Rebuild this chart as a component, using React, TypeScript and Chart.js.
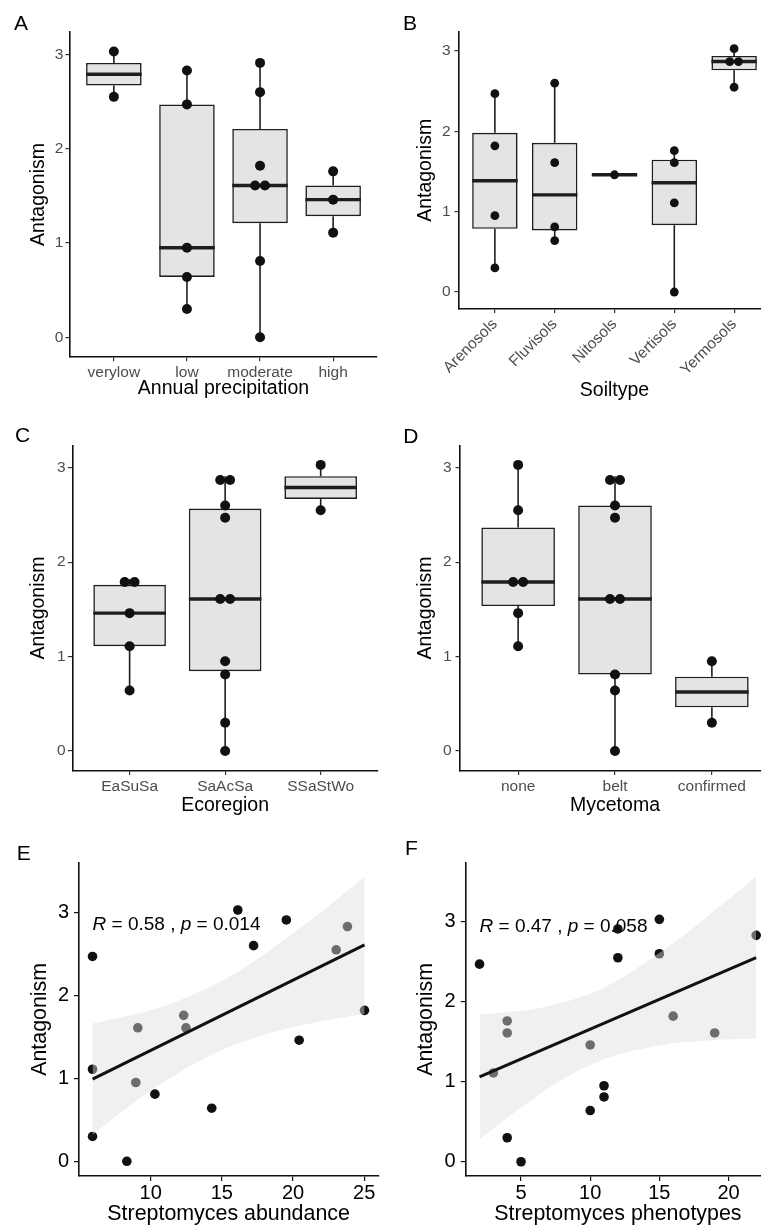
import React, { useEffect, useRef } from "react";
import { Chart, registerables } from "chart.js";

Chart.register(...registerables);

const FONT = "'Liberation Sans', Arial, Helvetica, sans-serif";

// ---------------- Data ----------------
// A: Annual precipitation
const precipitationCategories = ["verylow", "low", "moderate", "high"];
const precipitationVerylow = [3.03, 2.55];
const precipitationLow = [2.83, 2.47, 0.95, 0.64, 0.3];
const precipitationModerate = [2.91, 2.6, 1.82, 1.61, 1.61, 0.81, 0.0];
const precipitationHigh = [1.76, 1.46, 1.11];

// B: Soiltype
const soilCategories = ["Arenosols", "Fluvisols", "Nitosols", "Vertisols", "Yermosols"];
const soilArenosols = [2.47, 1.82, 0.95, 0.3];
const soilFluvisols = [2.6, 1.61, 0.81, 0.64];
const soilNitosols = [1.46];
const soilVertisols = [1.76, 1.61, 1.11, 0.0];
const soilYermosols = [3.03, 2.91, 2.83, 2.55];

// C: Ecoregion
const ecoregionCategories = ["EaSuSa", "SaAcSa", "SSaStWo"];
const ecoregionEaSuSa = [1.82, 1.76, 1.46, 1.11, 0.64];
const ecoregionSaAcSa = [2.91, 2.83, 2.6, 2.47, 1.61, 1.61, 0.95, 0.81, 0.3, 0.0];
const ecoregionSSaStWo = [3.03, 2.55];

// D: Mycetoma
const mycetomaCategories = ["none", "belt", "confirmed"];
const mycetomaNone = [3.03, 2.55, 1.82, 1.76, 1.46, 1.11];
const mycetomaBelt = [2.91, 2.83, 2.6, 2.47, 1.61, 1.61, 0.81, 0.64, 0.0];
const mycetomaConfirmed = [0.95, 0.3];

const antagonismTicks = [0, 1, 2, 3];

// E: Streptomyces abundance
const abundanceValues = [5.92, 16.12, 19.53, 17.23, 23.82, 23.03, 25.02, 20.43, 9.1, 12.32, 12.48, 5.92, 8.96, 10.3, 14.29, 5.92, 8.33];
const abundanceAntagonism = [2.47, 3.03, 2.91, 2.6, 2.83, 2.55, 1.82, 1.46, 1.61, 1.76, 1.61, 1.11, 0.95, 0.81, 0.64, 0.3, 0.0];
const abundanceFitX = [5.92, 25.02];
const abundanceFitY = [0.99, 2.61];
const abundanceBandX = [5.92, 8, 10, 12, 14, 16, 18, 20, 22, 25.02];
const abundanceBandUpper = [1.66, 1.74, 1.82, 1.94, 2.09, 2.27, 2.5, 2.75, 3.01, 3.43];
const abundanceBandLower = [0.32, 0.6, 0.85, 1.07, 1.26, 1.41, 1.53, 1.62, 1.69, 1.78];
const abundanceTicks = [10, 15, 20, 25];
const abundanceLabel = [
  { text: "R", italic: true },
  { text: " = 0.58 , ", italic: false },
  { text: "p", italic: true },
  { text: " = 0.014", italic: false },
];

// F: Streptomyces phenotypes
const phenotypeValues = [2, 15, 12, 12, 22, 15, 16, 19, 4, 4, 10, 3, 11, 11, 10, 4, 5];
const phenotypeAntagonism = [2.47, 3.03, 2.91, 2.55, 2.83, 2.6, 1.82, 1.61, 1.76, 1.61, 1.46, 1.11, 0.95, 0.81, 0.64, 0.3, 0.0];
const phenotypeFitX = [2, 22];
const phenotypeFitY = [1.06, 2.55];
const phenotypeBandX = [2, 4, 6, 8, 10, 12, 14, 16, 18, 20, 22];
const phenotypeBandUpper = [1.84, 1.87, 1.91, 1.99, 2.1, 2.27, 2.49, 2.73, 3.0, 3.28, 3.57];
const phenotypeBandLower = [0.28, 0.55, 0.8, 1.03, 1.21, 1.34, 1.42, 1.48, 1.51, 1.53, 1.54];
const phenotypeTicks = [5, 10, 15, 20];
const phenotypeLabel = [
  { text: "R", italic: true },
  { text: " = 0.47 , ", italic: false },
  { text: "p", italic: true },
  { text: " = 0.058", italic: false },
];

// ---------------- Styles ----------------
const BOX_FILL = "#e4e4e4";
const BOX_LINE = "#1e1e1e";
const DOT = "#111111";
const AXIS = "#111111";
const TICK_GRAY = "#4d4d4d";
const BAND = "rgba(222,222,222,0.45)";
const BOX_WIDTH = 0.76;

// ---------------- Helpers ----------------
function quantile7(sorted: number[], p: number) {
  const h = (sorted.length - 1) * p;
  const lo = Math.floor(h);
  const hi = Math.ceil(h);
  return sorted[lo] + (h - lo) * (sorted[hi] - sorted[lo]);
}

function boxStats(values: number[]) {
  const s = [...values].sort((a, b) => a - b);
  const q1 = quantile7(s, 0.25);
  const med = quantile7(s, 0.5);
  const q3 = quantile7(s, 0.75);
  const iqr = q3 - q1;
  const lo = Math.min(...s.filter((v) => v >= q1 - 1.5 * iqr));
  const hi = Math.max(...s.filter((v) => v <= q3 + 1.5 * iqr));
  return { q1, med, q3, lo, hi };
}

// dot-density style binning: values closer than binWidth are stacked side by side
function stackDots(values: number[], binWidth: number) {
  const s = [...values].sort((a, b) => a - b);
  const out: { y: number; offset: number }[] = [];
  let i = 0;
  while (i < s.length) {
    let j = i;
    while (j + 1 < s.length && s[j + 1] - s[i] < binWidth) j++;
    const m = j - i + 1;
    const center = (s[i] + s[j]) / 2;
    for (let k = 0; k < m; k++) out.push({ y: center, offset: k - (m - 1) / 2 });
    i = j + 1;
  }
  return out;
}

type Plot = { l: number; t: number; r: number; b: number };

type BoxPanelCfg = {
  letter: string;
  letterX: number;
  letterBaseline: number;
  left: number;
  top: number;
  w: number;
  h: number;
  plot: Plot;
  categories: string[];
  groups: number[][];
  xTitle: string;
  xTitleY: number;
  yTitleX: number;
  rotation: number;
  dotR: number;
  xTickPad: number;
  yTickPad: number;
};

type ScatterPanelCfg = {
  letter: string;
  letterX: number;
  letterBaseline: number;
  left: number;
  top: number;
  w: number;
  h: number;
  plot: Plot;
  x: number[];
  y: number[];
  fitX: number[];
  fitY: number[];
  bandX: number[];
  bandUpper: number[];
  bandLower: number[];
  xTicks: number[];
  xMin: number;
  xMax: number;
  yMin: number;
  yMax: number;
  xTitle: string;
  xTitleY: number;
  yTitleX: number;
  label: { text: string; italic: boolean }[];
  labelX: number;
  labelY: number;
};

const Y_MIN_BOX = -0.2065;
const Y_MAX_BOX = 3.2365;

const corLabelPlugin = {
  id: "corLabel",
  afterDatasetsDraw(chart: any, _args: any, opts: any) {
    if (!opts || !opts.parts) return;
    const { ctx } = chart;
    const xs = chart.scales.x;
    const ys = chart.scales.y;
    let px = xs.getPixelForValue(opts.x);
    const py = ys.getPixelForValue(opts.y);
    ctx.save();
    ctx.fillStyle = "#000";
    ctx.textBaseline = "middle";
    ctx.textAlign = "left";
    for (const part of opts.parts) {
      ctx.font = `${part.italic ? "italic " : ""}${opts.size}px ${FONT}`;
      ctx.fillText(part.text, px, py);
      px += ctx.measureText(part.text).width;
    }
    ctx.restore();
  },
};

function lineSeg(data: { x: number; y: number }[], width: number, color: string, order: number) {
  return {
    type: "line",
    data,
    borderColor: color,
    borderWidth: width,
    borderCapStyle: "butt",
    pointRadius: 0,
    fill: false,
    order,
  };
}

function buildBoxConfig(p: BoxPanelCfg): any {
  const stats = p.groups.map(boxStats);
  const xMin = 0.4;
  const xMax = p.categories.length + 0.6;
  const pxPerUnit = (p.plot.r - p.plot.l) / (xMax - xMin);
  const dotStep = (2 * p.dotR) / pxPerUnit;
  const datasets: any[] = [];
  datasets.push({
    type: "bar",
    data: stats.map((s, i) => ({ x: i + 1, y: [s.q1, s.q3] })),
    backgroundColor: BOX_FILL,
    borderColor: BOX_LINE,
    borderWidth: 1.6,
    borderSkipped: false,
    barPercentage: BOX_WIDTH,
    categoryPercentage: 1,
    order: 5,
  });
  stats.forEach((s, i) => {
    datasets.push(lineSeg([{ x: i + 1, y: s.lo }, { x: i + 1, y: s.q1 }], 1.6, BOX_LINE, 6));
    datasets.push(lineSeg([{ x: i + 1, y: s.q3 }, { x: i + 1, y: s.hi }], 1.6, BOX_LINE, 6));
    datasets.push(
      lineSeg(
        [
          { x: i + 1 - BOX_WIDTH / 2, y: s.med },
          { x: i + 1 + BOX_WIDTH / 2, y: s.med },
        ],
        3.4,
        BOX_LINE,
        4
      )
    );
  });
  const dots: { x: number; y: number }[] = [];
  p.groups.forEach((g, i) => {
    stackDots(g, 0.1).forEach((d) => dots.push({ x: i + 1 + d.offset * dotStep, y: d.y }));
  });
  datasets.push({
    type: "scatter",
    data: dots,
    pointRadius: p.dotR,
    pointHoverRadius: p.dotR,
    pointBackgroundColor: DOT,
    pointBorderWidth: 0,
    order: 1,
  });

  const tickFont = { family: FONT, size: 15.5 };
  const titleFont = { family: FONT, size: 19.5 };
  const titleLH = 19.5 * 1.2;

  return {
    type: "bar",
    data: { datasets },
    options: {
      animation: false,
      responsive: false,
      devicePixelRatio: 1,
      events: [],
      layout: {
        padding: { left: 0, top: p.plot.t, right: p.w - p.plot.r, bottom: 0 },
      },
      plugins: { legend: { display: false }, tooltip: { enabled: false } },
      scales: {
        x: {
          type: "linear",
          min: xMin,
          max: xMax,
          bounds: "data",
          offset: false,
          afterBuildTicks: (s: any) => {
            s.ticks = p.categories.map((_, i) => ({ value: i + 1 }));
          },
          afterFit: (s: any) => {
            s.height = p.h - p.plot.b;
          },
          ticks: {
            autoSkip: false,
            maxRotation: p.rotation,
            minRotation: p.rotation,
            padding: p.xTickPad,
            color: TICK_GRAY,
            font: tickFont,
            callback: (v: number) => p.categories[Math.round(v) - 1] ?? "",
          },
          grid: {
            drawOnChartArea: false,
            drawTicks: true,
            tickLength: 4.5,
            color: "#333",
            lineWidth: 1.2,
            offset: false,
          },
          border: { display: true, color: AXIS, width: 1.6 },
          title: {
            display: true,
            text: p.xTitle,
            color: "#000",
            font: titleFont,
            padding: { top: 0, bottom: p.h - titleLH / 2 - p.xTitleY },
          },
        },
        y: {
          type: "linear",
          min: Y_MIN_BOX,
          max: Y_MAX_BOX,
          bounds: "data",
          afterBuildTicks: (s: any) => {
            s.ticks = antagonismTicks.map((v) => ({ value: v }));
          },
          afterFit: (s: any) => {
            s.width = p.plot.l;
          },
          ticks: { padding: p.yTickPad, color: TICK_GRAY, font: tickFont },
          grid: {
            drawOnChartArea: false,
            drawTicks: true,
            tickLength: 4.5,
            color: "#333",
            lineWidth: 1.2,
          },
          border: { display: true, color: AXIS, width: 1.6 },
          title: {
            display: true,
            text: "Antagonism",
            color: "#000",
            font: titleFont,
            padding: { top: p.yTitleX - titleLH / 2, bottom: 0 },
          },
        },
      },
    },
  };
}

function buildScatterConfig(p: ScatterPanelCfg): any {
  const tickFont = { family: FONT, size: 20 };
  const titleFont = { family: FONT, size: 21.4 };
  const titleLH = 21.4 * 1.2;
  return {
    type: "scatter",
    data: {
      datasets: [
        {
          type: "line",
          data: p.bandX.map((x, i) => ({ x, y: p.bandLower[i] })),
          borderColor: "rgba(0,0,0,0)",
          borderWidth: 0,
          pointRadius: 0,
          fill: false,
          cubicInterpolationMode: "monotone",
          order: 2,
        },
        {
          type: "line",
          data: p.bandX.map((x, i) => ({ x, y: p.bandUpper[i] })),
          borderColor: "rgba(0,0,0,0)",
          borderWidth: 0,
          pointRadius: 0,
          fill: "-1",
          backgroundColor: BAND,
          cubicInterpolationMode: "monotone",
          order: 2,
        },
        {
          type: "line",
          data: p.fitX.map((x, i) => ({ x, y: p.fitY[i] })),
          borderColor: "#111",
          borderWidth: 3,
          borderCapStyle: "butt",
          pointRadius: 0,
          fill: false,
          order: 1,
        },
        {
          type: "scatter",
          data: p.x.map((x, i) => ({ x, y: p.y[i] })),
          pointRadius: 4.8,
          pointHoverRadius: 4.8,
          pointBackgroundColor: DOT,
          pointBorderWidth: 0,
          order: 3,
        },
      ],
    },
    plugins: [corLabelPlugin],
    options: {
      animation: false,
      responsive: false,
      devicePixelRatio: 1,
      events: [],
      layout: {
        padding: { left: 0, top: p.plot.t, right: p.w - p.plot.r, bottom: 0 },
      },
      plugins: {
        legend: { display: false },
        tooltip: { enabled: false },
        corLabel: { parts: p.label, x: p.labelX, y: p.labelY, size: 19 },
      },
      scales: {
        x: {
          type: "linear",
          min: p.xMin,
          max: p.xMax,
          bounds: "data",
          afterBuildTicks: (s: any) => {
            s.ticks = p.xTicks.map((v) => ({ value: v }));
          },
          afterFit: (s: any) => {
            s.height = p.h - p.plot.b;
          },
          ticks: { padding: 0, color: "#000", font: tickFont, maxRotation: 0, autoSkip: false },
          grid: { drawOnChartArea: false, drawTicks: true, tickLength: 5, color: "#111", lineWidth: 1.2 },
          border: { display: true, color: AXIS, width: 1.6 },
          title: {
            display: true,
            text: p.xTitle,
            color: "#000",
            font: titleFont,
            padding: { top: 0, bottom: p.h - titleLH / 2 - p.xTitleY },
          },
        },
        y: {
          type: "linear",
          min: p.yMin,
          max: p.yMax,
          bounds: "data",
          afterBuildTicks: (s: any) => {
            s.ticks = antagonismTicks.map((v) => ({ value: v }));
          },
          afterFit: (s: any) => {
            s.width = p.plot.l;
          },
          ticks: { padding: 5, color: "#000", font: tickFont },
          grid: { drawOnChartArea: false, drawTicks: true, tickLength: 5, color: "#111", lineWidth: 1.2 },
          border: { display: true, color: AXIS, width: 1.6 },
          title: {
            display: true,
            text: "Antagonism",
            color: "#000",
            font: titleFont,
            padding: { top: p.yTitleX - titleLH / 2, bottom: 0 },
          },
        },
      },
    },
  };
}

// ---------------- Panels ----------------
const panelA: BoxPanelCfg = {
  letter: "A", letterX: 14, letterBaseline: 30,
  left: 0, top: 0, w: 382, h: 402,
  plot: { l: 70, t: 32.1, r: 380.8, b: 356.8 },
  categories: precipitationCategories,
  groups: [precipitationVerylow, precipitationLow, precipitationModerate, precipitationHigh],
  xTitle: "Annual precipitation", xTitleY: 388.7, yTitleX: 38.3,
  rotation: 0, dotR: 5, xTickPad: 2, yTickPad: 2.2,
};

const panelB: BoxPanelCfg = {
  letter: "B", letterX: 403, letterBaseline: 30,
  left: 380, top: 0, w: 395, h: 410,
  plot: { l: 79, t: 32.1, r: 390, b: 308.6 },
  categories: soilCategories,
  groups: [soilArenosols, soilFluvisols, soilNitosols, soilVertisols, soilYermosols],
  xTitle: "Soiltype", xTitleY: 390.3, yTitleX: 45.8,
  rotation: 45, dotR: 4.4, xTickPad: 2, yTickPad: 4,
};

const panelC: BoxPanelCfg = {
  letter: "C", letterX: 15, letterBaseline: 441.7,
  left: 0, top: 400, w: 383, h: 420,
  plot: { l: 72.3, t: 45.4, r: 382, b: 370.5 },
  categories: ecoregionCategories,
  groups: [ecoregionEaSuSa, ecoregionSaAcSa, ecoregionSSaStWo],
  xTitle: "Ecoregion", xTitleY: 405.3, yTitleX: 38.3,
  rotation: 0, dotR: 5, xTickPad: 2, yTickPad: 2.2,
};

const panelD: BoxPanelCfg = {
  letter: "D", letterX: 403.3, letterBaseline: 442.7,
  left: 380, top: 400, w: 395, h: 420,
  plot: { l: 80, t: 45.4, r: 390, b: 370.5 },
  categories: mycetomaCategories,
  groups: [mycetomaNone, mycetomaBelt, mycetomaConfirmed],
  xTitle: "Mycetoma", xTitleY: 405.3, yTitleX: 45.8,
  rotation: 0, dotR: 5, xTickPad: 2, yTickPad: 4,
};

const panelE: ScatterPanelCfg = {
  letter: "E", letterX: 16.7, letterBaseline: 859.5,
  left: 0, top: 820, w: 383, h: 410,
  plot: { l: 79, t: 42.7, r: 381, b: 356 },
  x: abundanceValues, y: abundanceAntagonism,
  fitX: abundanceFitX, fitY: abundanceFitY,
  bandX: abundanceBandX, bandUpper: abundanceBandUpper, bandLower: abundanceBandLower,
  xTicks: abundanceTicks, xMin: 4.97, xMax: 25.98, yMin: -0.177, yMax: 3.6,
  xTitle: "Streptomyces abundance", xTitleY: 393.7, yTitleX: 40,
  label: abundanceLabel, labelX: 5.92, labelY: 2.85,
};

const panelF: ScatterPanelCfg = {
  letter: "F", letterX: 405, letterBaseline: 854.5,
  left: 380, top: 820, w: 395, h: 410,
  plot: { l: 85.7, t: 42.7, r: 390, b: 356 },
  x: phenotypeValues, y: phenotypeAntagonism,
  fitX: phenotypeFitX, fitY: phenotypeFitY,
  bandX: phenotypeBandX, bandUpper: phenotypeBandUpper, bandLower: phenotypeBandLower,
  xTicks: phenotypeTicks, xMin: 1, xMax: 23, yMin: -0.178, yMax: 3.738,
  xTitle: "Streptomyces phenotypes", xTitleY: 393.7, yTitleX: 45.8,
  label: phenotypeLabel, labelX: 2, labelY: 2.94,
};

function PanelLetter({ letter, x, baseline }: { letter: string; x: number; baseline: number }) {
  return (
    <div
      style={{
        position: "absolute",
        left: x,
        top: baseline - 21 * 0.8465,
        fontFamily: FONT,
        fontSize: 21,
        lineHeight: "21px",
        color: "#000",
        whiteSpace: "nowrap",
      }}
    >
      {letter}
    </div>
  );
}

function ChartCanvas({ left, top, w, h, build }: { left: number; top: number; w: number; h: number; build: () => any }) {
  const ref = useRef<HTMLCanvasElement>(null);
  useEffect(() => {
    if (!ref.current) return;
    const chart = new Chart(ref.current, build());
    return () => chart.destroy();
  }, []);
  return (
    <canvas
      ref={ref}
      width={w}
      height={h}
      style={{ position: "absolute", left, top, width: w, height: h }}
    />
  );
}

export default function App() {
  const boxPanels = [panelA, panelB, panelC, panelD];
  const scatterPanels = [panelE, panelF];
  return (
    <div
      style={{
        position: "absolute",
        left: 0,
        top: 0,
        width: 761,
        height: 1230,
        overflow: "hidden",
        background: "#fff",
      }}
    >
      {boxPanels.map((p) => (
        <ChartCanvas key={p.letter} left={p.left} top={p.top} w={p.w} h={p.h} build={() => buildBoxConfig(p)} />
      ))}
      {scatterPanels.map((p) => (
        <ChartCanvas key={p.letter} left={p.left} top={p.top} w={p.w} h={p.h} build={() => buildScatterConfig(p)} />
      ))}
      {[...boxPanels, ...scatterPanels].map((p) => (
        <PanelLetter key={"l" + p.letter} letter={p.letter} x={p.letterX} baseline={p.letterBaseline} />
      ))}
    </div>
  );
}
